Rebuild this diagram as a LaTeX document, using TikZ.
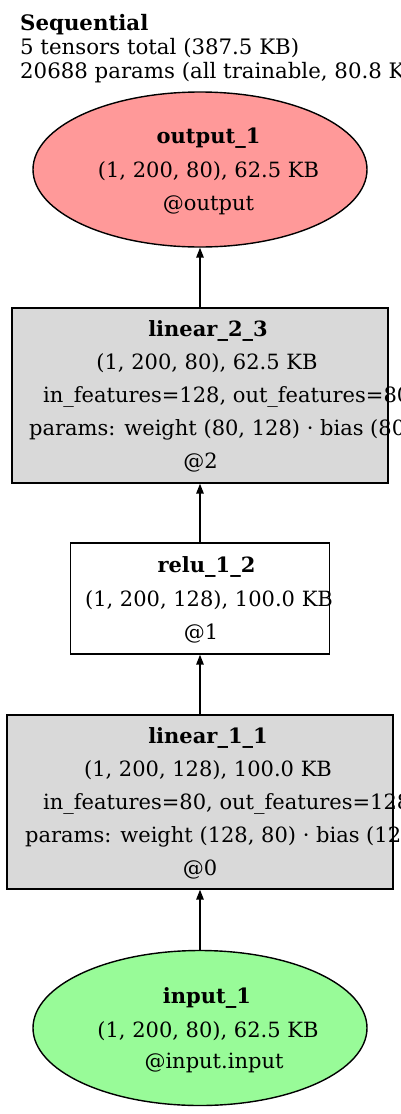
\documentclass[tikz,border=0pt]{standalone}
\usepackage{fontspec}
\setmainfont{DejaVu Serif}
\usetikzlibrary{shapes.geometric,arrows.meta}
\definecolor{outfill}{RGB}{255,153,153}
\definecolor{infill}{RGB}{152,251,152}
\definecolor{boxfill}{RGB}{217,217,217}
\tikzset{
  shapeline/.style={draw=black, line width=1.4pt},
  ell/.style={shapeline, ellipse, inner sep=0pt, minimum width=334pt, minimum height=155pt},
  rect/.style={shapeline, rectangle, inner sep=0pt},
  txt/.style={inner sep=0pt, font=\fontsize{21}{24}\selectfont},
  ttl/.style={inner sep=0pt, font=\fontsize{21.3}{24}\selectfont},
  arr/.style={line width=1.5pt, -{Triangle[length=10pt,width=7.5pt]}},
}
\begin{document}
\begin{tikzpicture}[x=1pt,y=-1pt]
\useasboundingbox (0,0) rectangle (400,1114);
% title
\node[ttl, anchor=base west] (t1) at (20,30) {\bfseries Sequential};
\node[ttl, anchor=base west] (t2) at (20,54) {5 tensors total (387.5 KB)};
\node[ttl, anchor=base west] (t3) at (20,78) {20688 params (all trainable, 80.8 KB)};
% shapes
\node[ell, fill=outfill] (output) at (200,169.5) {};
\node[rect, fill=boxfill, minimum width=376pt, minimum height=175pt] (lin2) at (200,395.5) {};
\node[rect, fill=white, minimum width=259pt, minimum height=111pt] (relu) at (200,598.5) {};
\node[rect, fill=boxfill, minimum width=386pt, minimum height=174pt] (lin1) at (200,802) {};
\node[ell, fill=infill] (input) at (200,1028) {};
% arrows
\draw[arr] (input.north) -- (lin1.south);
\draw[arr] (lin1.north) -- (relu.south);
\draw[arr] (relu.north) -- (lin2.south);
\draw[arr] (lin2.north) -- (output.south);
% output text
\node[txt, anchor=base] (o1) at (208.5,143) {\bfseries output\_1};
\node[txt, anchor=base] (o2) at (208.5,177) {(1, 200, 80), 62.5 KB};
\node[txt, anchor=base] (o3) at (208.5,210) {@output};
% linear_2_3 text
\node[txt, anchor=base] (a1) at (208,336) {\bfseries linear\_2\_3};
\node[txt, anchor=base] (a2) at (207,369) {(1, 200, 80), 62.5 KB};
\node[txt, anchor=base west] (a3) at (43,402) {in\_features=128, out\_features=80};
\node[txt, anchor=base west] (a4) at (29,435) {params: weight (80, 128) · bias (80)};
\node[txt, anchor=base] (a5) at (200.5,468) {@2};
% relu text
\node[txt, anchor=base] (r1) at (206.5,572) {\bfseries relu\_1\_2};
\node[txt, anchor=base] (r2) at (209,606) {(1, 200, 128), 100.0 KB};
\node[txt, anchor=base] (r3) at (201,639) {@1};
% linear_1_1 text
\node[txt, anchor=base] (b1) at (208,743) {\bfseries linear\_1\_1};
\node[txt, anchor=base] (b2) at (208,776) {(1, 200, 128), 100.0 KB};
\node[txt, anchor=base west] (b3) at (43,809) {in\_features=80, out\_features=128};
\node[txt, anchor=base west] (b4) at (25,842) {params: weight (128, 80) · bias (128)};
\node[txt, anchor=base] (b5) at (200,875) {@0};
% input text
\node[txt, anchor=base] (i1) at (207,1003) {\bfseries input\_1};
\node[txt, anchor=base] (i2) at (208,1037) {(1, 200, 80), 62.5 KB};
\node[txt, anchor=base] (i3) at (214,1068) {@input.input};
\end{tikzpicture}
\end{document}
